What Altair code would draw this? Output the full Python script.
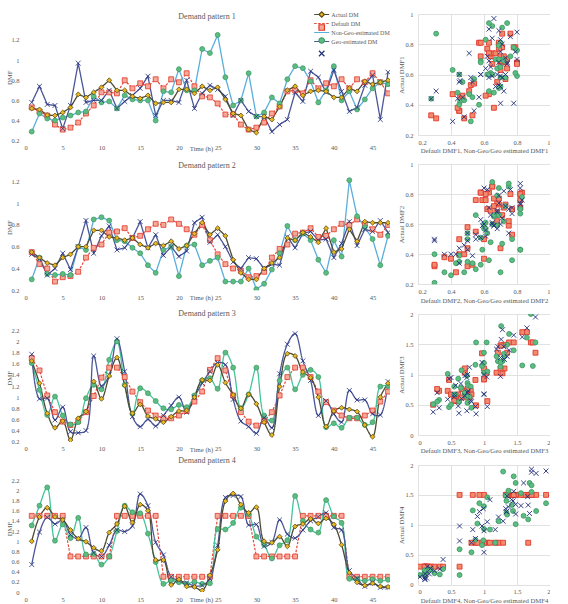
import altair as alt
import pandas as pd

T = list(range(1, 48))
SERIES = ["Actual DM", "Default DM", "Non-Geo-estimated DM", "Geo-estimated DM"]
PT_CODES = ["A", "D", "N", "G"]

# ---- Demand pattern 1 ----
actual1 = [0.52, 0.51, 0.455, 0.45, 0.48, 0.53, 0.66, 0.63, 0.68, 0.73, 0.80, 0.70, 0.70, 0.64, 0.62, 0.65, 0.57, 0.58, 0.58, 0.71,
           0.71, 0.67, 0.74, 0.70, 0.73, 0.61, 0.47, 0.45, 0.31, 0.28, 0.44, 0.41, 0.54, 0.70, 0.74, 0.65, 0.69, 0.70, 0.69, 0.63,
           0.63, 0.72, 0.69, 0.79, 0.76, 0.78, 0.80]
default1 = [0.53, 0.49, 0.45, 0.36, 0.31, 0.33, 0.38, 0.47, 0.55, 0.68, 0.68, 0.67, 0.80, 0.72, 0.77, 0.74, 0.81, 0.72, 0.81, 0.78,
            0.87, 0.74, 0.64, 0.63, 0.57, 0.46, 0.46, 0.36, 0.31, 0.33, 0.38, 0.47, 0.54, 0.69, 0.70, 0.67, 0.80, 0.72, 0.77, 0.74,
            0.81, 0.72, 0.81, 0.78, 0.87, 0.78, 0.67]
nongeo1 = [0.29, 0.47, 0.42, 0.40, 0.43, 0.45, 0.48, 0.49, 0.64, 0.58, 0.59, 0.52, 0.65, 0.61, 0.60, 0.60, 0.40, 0.69, 0.68, 0.91,
           0.70, 0.70, 1.11, 1.07, 1.25, 0.83, 0.55, 0.60, 0.87, 0.44, 0.48, 0.63, 0.57, 0.81, 0.94, 0.92, 0.79, 0.58, 0.70, 0.94,
           0.60, 0.69, 0.51, 0.61, 0.72, 0.78, 0.76]
geo1 = [0.58, 0.74, 0.56, 0.55, 0.32, 0.55, 0.97, 0.58, 0.60, 0.60, 0.70, 0.52, 0.59, 0.65, 0.72, 0.84, 0.45, 0.60, 0.60, 0.58,
        0.80, 0.52, 0.67, 0.75, 0.71, 0.64, 0.45, 0.60, 0.49, 0.44, 0.44, 0.29, 0.36, 0.41, 0.68, 0.59, 0.89, 0.83, 0.68, 0.90,
        0.69, 0.49, 0.53, 0.75, 0.85, 0.41, 0.88]

# ---- Demand pattern 2 ----
actual2 = [0.55, 0.50, 0.45, 0.43, 0.50, 0.53, 0.60, 0.60, 0.75, 0.75, 0.69, 0.68, 0.66, 0.68, 0.62, 0.59, 0.63, 0.61, 0.65, 0.58,
           0.61, 0.72, 0.82, 0.71, 0.77, 0.70, 0.48, 0.36, 0.30, 0.30, 0.40, 0.45, 0.50, 0.68, 0.66, 0.73, 0.69, 0.64, 0.77, 0.55,
           0.58, 0.76, 0.65, 0.83, 0.82, 0.82, 0.82]
default2 = [0.55, 0.44, 0.40, 0.28, 0.32, 0.33, 0.37, 0.50, 0.59, 0.62, 0.73, 0.74, 0.77, 0.68, 0.70, 0.76, 0.81, 0.80, 0.85, 0.81,
            0.76, 0.71, 0.80, 0.66, 0.53, 0.44, 0.40, 0.38, 0.32, 0.33, 0.37, 0.50, 0.58, 0.62, 0.72, 0.73, 0.77, 0.69, 0.70, 0.76,
            0.81, 0.80, 0.85, 0.81, 0.76, 0.71, 0.80]
nongeo2 = [0.30, 0.50, 0.35, 0.34, 0.35, 0.34, 0.60, 0.57, 0.85, 0.87, 0.84, 0.66, 0.65, 0.59, 0.54, 0.43, 0.36, 0.57, 0.60, 0.33,
           0.61, 0.62, 0.43, 0.47, 0.50, 0.28, 0.28, 0.28, 0.40, 0.21, 0.26, 0.39, 0.54, 0.79, 0.66, 0.72, 0.66, 0.48, 0.36, 0.66,
           0.51, 1.21, 0.88, 0.78, 0.67, 0.43, 0.70]
geo2 = [0.53, 0.49, 0.34, 0.40, 0.54, 0.39, 0.60, 0.84, 0.54, 0.70, 0.79, 0.57, 0.59, 0.68, 0.83, 0.59, 0.71, 0.52, 0.60, 0.51,
        0.56, 0.82, 0.87, 0.64, 0.71, 0.60, 0.46, 0.40, 0.50, 0.49, 0.40, 0.44, 0.43, 0.69, 0.59, 0.72, 0.74, 0.66, 0.67, 0.50,
        0.63, 0.83, 0.61, 0.76, 0.74, 0.84, 0.73]

# ---- Demand pattern 3 ----
actual3 = [1.65, 1.25, 0.71, 0.45, 0.57, 0.23, 0.62, 0.74, 1.28, 0.97, 1.38, 1.71, 1.21, 0.71, 0.87, 0.66, 0.61, 0.55, 0.65, 0.75,
           0.76, 1.00, 1.31, 1.30, 1.58, 1.26, 1.04, 0.80, 1.05, 0.88, 0.55, 0.32, 1.19, 1.78, 1.74, 1.45, 1.35, 1.00, 0.47, 0.75,
           0.81, 0.78, 0.74, 0.50, 0.29, 1.00, 1.25]
default3 = [1.70, 1.48, 1.03, 0.73, 0.56, 0.50, 0.57, 0.73, 1.02, 1.35, 1.53, 1.53, 1.36, 1.10, 0.91, 0.76, 0.67, 0.62, 0.62, 0.67,
            0.75, 0.92, 1.10, 1.49, 1.70, 1.48, 1.03, 0.73, 0.56, 0.49, 0.57, 0.73, 1.03, 1.36, 1.53, 1.53, 1.36, 1.10, 0.91, 0.76,
            0.67, 0.62, 0.62, 0.67, 0.76, 0.92, 1.10]
nongeo3 = [1.61, 1.13, 0.68, 1.01, 0.67, 0.51, 0.55, 0.98, 1.22, 1.14, 1.67, 2.00, 1.22, 0.70, 1.16, 1.07, 0.93, 0.80, 0.78, 0.86,
           0.82, 1.03, 1.30, 1.34, 1.15, 1.80, 1.53, 0.80, 1.05, 1.53, 0.67, 0.58, 1.30, 1.53, 1.14, 1.40, 1.49, 1.36, 0.46, 0.53,
           0.45, 0.63, 0.63, 0.50, 0.55, 1.19, 1.20]
geo3 = [1.77, 0.97, 0.98, 0.59, 0.82, 0.38, 0.36, 0.40, 1.74, 1.20, 1.40, 2.05, 1.46, 0.65, 0.47, 0.60, 0.48, 0.67, 0.85, 1.00,
        0.73, 1.00, 1.25, 1.46, 1.62, 1.58, 0.96, 0.57, 0.47, 0.35, 0.63, 0.45, 1.42, 1.95, 2.14, 1.65, 1.30, 0.67, 0.93, 0.70,
        0.55, 1.12, 0.95, 0.95, 0.70, 0.68, 1.28]

# ---- Demand pattern 4 ----
actual4 = [1.00, 1.48, 1.66, 1.48, 1.42, 1.22, 1.05, 0.99, 0.87, 0.81, 1.17, 1.34, 1.69, 1.37, 1.72, 1.60, 0.63, 0.63, 0.14, 0.25,
           0.11, 0.10, 0.03, 0.33, 0.83, 1.79, 1.94, 1.72, 1.56, 1.67, 1.00, 0.97, 1.09, 0.90, 1.29, 1.34, 1.44, 1.35, 1.45, 1.33,
           0.93, 0.38, 0.19, 0.13, 0.17, 0.11, 0.10]
default4 = [1.5, 1.5, 1.5, 1.5, 1.5, 0.7, 0.7, 0.7, 0.7, 0.7, 0.7, 1.5, 1.5, 1.5, 1.5, 1.5, 1.5, 0.3, 0.3, 0.3,
            0.3, 0.3, 0.3, 0.3, 1.5, 1.5, 1.5, 1.5, 1.5, 0.7, 0.7, 0.7, 0.7, 0.7, 0.7, 1.5, 1.5, 1.5, 1.5, 1.5,
            1.5, 0.3, 0.3, 0.3, 0.3, 0.3, 0.3]
nongeo4 = [1.31, 1.70, 2.06, 1.01, 1.33, 1.06, 1.46, 0.74, 0.75, 0.54, 0.70, 1.20, 1.70, 1.57, 1.55, 1.15, 0.59, 0.16, 0.23, 0.19,
           0.16, 0.20, 0.16, 0.17, 1.24, 1.23, 1.36, 1.66, 1.53, 1.09, 0.93, 0.66, 0.92, 1.02, 1.89, 1.40, 1.23, 1.17, 1.81, 1.49,
           1.36, 0.26, 0.25, 0.22, 0.25, 0.22, 0.24]
geo4 = [0.54, 1.18, 1.47, 1.34, 1.42, 1.13, 1.05, 1.27, 0.77, 0.70, 0.92, 1.22, 1.19, 1.30, 1.93, 1.70, 0.98, 0.73, 0.30, 0.23,
        0.18, 0.12, 0.13, 0.26, 0.92, 1.86, 1.90, 1.88, 1.32, 1.33, 0.90, 0.98, 1.42, 1.14, 1.06, 1.22, 1.40, 1.48, 1.56, 1.27,
        1.22, 0.42, 0.27, 0.11, 0.18, 0.09, 0.09]

X_TICKS = [0, 5, 10, 15, 20, 25, 30, 35, 40, 45]
Y_TICKS_12 = [0.2, 0.4, 0.6, 0.8, 1.0, 1.2]
Y_TICKS_3 = [0.2, 0.4, 0.6, 0.8, 1.0, 1.2, 1.4, 1.6, 1.8, 2.0, 2.2]
Y_TICKS_4 = [0, 0.2, 0.4, 0.6, 0.8, 1.0, 1.2, 1.4, 1.6, 1.8, 2.0, 2.2]
SC_TICKS_12 = [0.2, 0.4, 0.6, 0.8, 1.0]
SC_TICKS_34 = [0, 0.5, 1.0, 1.5, 2.0]

FONT = "Liberation Serif"
GRAY = "#595959"
ACT_LINE = "#4d4a33"
ACT_FILL = "#e9b820"
ACT_STROKE = "#5a4a12"
DEF_LINE = "#e8473b"
DEF_FILL = "#f7a896"
DEF_STROKE = "#e0392c"
NG_LINE_A = "#5aaedb"
NG_LINE_B = "#45c49b"
NG_FILL = "#5cbd80"
NG_STROKE = "#3f9a68"
GEO_LINE = "#4b5699"
GEO_MARK = "#22307a"
XPATH = "M-1,-1L1,1M-1,1L1,-1"
LEGEND_LINE = "M-2.75,0L2.75,0"

LW = 366
SW = 132


def long_df(actual, default, nongeo, geo):
    rows = []
    # drawing order: default, non-geo, geo, actual on top
    for i in [1, 2, 3, 0]:
        vals = [actual, default, nongeo, geo][i]
        for t, v in zip(T, vals):
            rows.append({"t": t, "v": v, "series": SERIES[i], "pt": PT_CODES[i]})
    return pd.DataFrame(rows)


def line_panel(k, actual, default, nongeo, geo, ydom, yvals, h, ng_line, smooth, toff, legend):
    df = long_df(actual, default, nongeo, geo)
    x = alt.X("t:Q", scale=alt.Scale(domain=[0, 47.25], nice=False, zero=False),
              axis=alt.Axis(values=X_TICKS, domain=False, ticks=False, tickSize=0, grid=False,
                            labelPadding=4, title="Time (h)", titleX=177, titleY=7.5,
                            titleAlign="center", titleBaseline="middle"))
    y = alt.Y("v:Q", scale=alt.Scale(domain=ydom, nice=False, zero=False),
              axis=alt.Axis(values=yvals, format="~g", domain=False, ticks=False, tickSize=0, grid=False,
                            labelPadding=5, title="DMF", titleX=-15, titleY=h / 2,
                            titleAlign="center", titleBaseline="middle"))
    cscale = alt.Scale(domain=SERIES, range=[ACT_LINE, DEF_LINE, ng_line, GEO_LINE])
    dscale = alt.Scale(domain=SERIES, range=[[1, 0], [2.5, 1.5], [1, 0], [1, 0]])
    if legend:
        lleg = alt.Legend(orient="none", legendX=294.2, legendY=-3, title=None, symbolType=LEGEND_LINE,
                          symbolSize=30, symbolStrokeWidth=1.2, labelFont=FONT, labelFontSize=6,
                          labelColor=GRAY, rowPadding=2, labelOffset=6.1, padding=0)
        pleg = alt.Legend(orient="none", legendX=294.2, legendY=-3, title=None,
                          symbolSize=30, symbolStrokeWidth=1.2, labelFont=FONT, labelFontSize=6,
                          labelExpr="''", rowPadding=2, labelOffset=6.1, padding=0)
    else:
        lleg = None
        pleg = None
    base = alt.Chart(df)
    interp = "catmull-rom" if smooth else "linear"
    col = alt.Color("series:N", scale=cscale, legend=lleg)
    dash = alt.StrokeDash("series:N", scale=dscale, legend=lleg)
    def_line = base.transform_filter(alt.datum.series == "Default DM").mark_line(
        strokeWidth=1.2, clip=True).encode(x=x, y=y, color=col, strokeDash=dash)
    other_lines = base.transform_filter(alt.datum.series != "Default DM").mark_line(
        strokeWidth=1.3, clip=True, interpolate=interp).encode(x=x, y=y, color=col, strokeDash=dash)
    pts = base.mark_point(filled=True, size=24, strokeWidth=0.8, opacity=1, clip=True).encode(
        x=x, y=y,
        shape=alt.Shape("pt:N", scale=alt.Scale(domain=PT_CODES, range=["diamond", "square", "circle", XPATH]), legend=pleg),
        fill=alt.Fill("pt:N", scale=alt.Scale(domain=PT_CODES, range=[ACT_FILL, DEF_FILL, NG_FILL, GEO_MARK]), legend=pleg),
        stroke=alt.Stroke("pt:N", scale=alt.Scale(domain=PT_CODES, range=[ACT_STROKE, DEF_STROKE, NG_STROKE, GEO_MARK]), legend=pleg),
    )
    return alt.layer(def_line, other_lines, pts).properties(
        width=LW, height=h,
        title=alt.TitleParams(f"Demand pattern {k}", font=FONT, fontSize=8, fontWeight="normal",
                              color=GRAY, offset=toff, frame="group", anchor="middle"),
    )


def scatter_panel(k, actual, default, nongeo, geo, dom, vals, h):
    rows = []
    for name, vals_e in [("Default", default), ("Non-Geo", nongeo), ("Geo", geo)]:
        for a, e in zip(actual, vals_e):
            rows.append({"a": a, "e": e, "s": name})
    df = pd.DataFrame(rows)
    sdom = ["Default", "Non-Geo", "Geo"]
    x = alt.X("a:Q", scale=alt.Scale(domain=dom, nice=False, zero=False),
              axis=alt.Axis(values=vals, format="~g", grid=True, gridColor="#d9d9d9", gridWidth=0.8,
                            domain=False, ticks=False, tickSize=0, labelPadding=4,
                            title=f"Default DMF{k}, Non-Geo/Geo estimated DMF{k}",
                            titleX=SW / 2, titleY=15.7, titleAlign="center", titleBaseline="middle"))
    y = alt.Y("e:Q", scale=alt.Scale(domain=dom, nice=False, zero=False),
              axis=alt.Axis(values=vals, format="~g", grid=True, gridColor="#d9d9d9", gridWidth=0.8,
                            domain=False, ticks=False, tickSize=0, labelPadding=5,
                            title=f"Actual DMF{k}", titleX=-17, titleY=h / 2,
                            titleAlign="center", titleBaseline="middle"))
    return alt.Chart(df).mark_point(filled=True, size=24, strokeWidth=0.9, opacity=1, clip=True).encode(
        x=x, y=y,
        shape=alt.Shape("s:N", scale=alt.Scale(domain=sdom, range=["square", "circle", XPATH]), legend=None),
        fill=alt.Fill("s:N", scale=alt.Scale(domain=sdom, range=["#f28a6e", NG_FILL, GEO_MARK]), legend=None),
        stroke=alt.Stroke("s:N", scale=alt.Scale(domain=sdom, range=[DEF_STROKE, NG_STROKE, GEO_MARK]), legend=None),
    ).properties(width=SW, height=h)


RES = dict(x="independent", y="independent", color="independent", strokeDash="independent",
           shape="independent", fill="independent", stroke="independent")

panels = [
    line_panel(1, actual1, default1, nongeo1, geo1, [0.2, 1.458], Y_TICKS_12, 126.7, NG_LINE_A, False, -9.5, True),
    scatter_panel(1, actual1, default1, nongeo1, geo1, [0.2, 1.0], SC_TICKS_12, 121),
    line_panel(2, actual2, default2, nongeo2, geo2, [0.2, 1.359], Y_TICKS_12, 126.3, NG_LINE_A, False, -5.8, False),
    scatter_panel(2, actual2, default2, nongeo2, geo2, [0.2, 1.0], SC_TICKS_12, 120.3),
    line_panel(3, actual3, default3, nongeo3, geo3, [0.2, 2.493], Y_TICKS_3, 127.7, NG_LINE_B, True, -3.5, False),
    scatter_panel(3, actual3, default3, nongeo3, geo3, [0, 2.0], SC_TICKS_34, 121),
    line_panel(4, actual4, default4, nongeo4, geo4, [0, 2.501], Y_TICKS_4, 127, NG_LINE_B, True, 0.2, False),
    scatter_panel(4, actual4, default4, nongeo4, geo4, [0, 2.0], SC_TICKS_34, 119.6),
]

chart = alt.concat(
    *panels, columns=2, spacing={"row": 23, "column": 28}, bounds="flush", align="each",
).resolve_scale(**RES).properties(
    padding={"left": 6, "top": 11, "right": 0, "bottom": 0},
    background="white",
).configure_view(strokeWidth=0).configure_axis(
    labelFont=FONT, labelFontSize=6.5, labelColor=GRAY,
    titleFont=FONT, titleFontSize=6.7, titleColor=GRAY, titleFontWeight="normal",
)

chart.save("out.html", embed_options={"renderer": "svg", "actions": False})
